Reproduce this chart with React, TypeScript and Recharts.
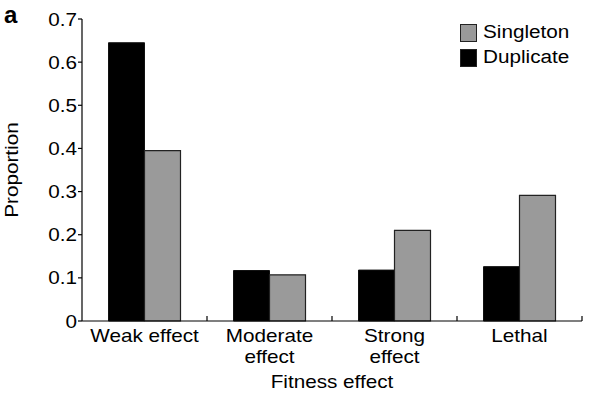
import React from 'react';
import { BarChart, Bar, XAxis, YAxis, Label } from 'recharts';

const categories = ['Weak effect', 'Moderate\neffect', 'Strong\neffect', 'Lethal'];
const duplicate = [0.645, 0.117, 0.118, 0.126];
const singleton = [0.395, 0.107, 0.21, 0.291];
const yTicks = [0, 0.1, 0.2, 0.3, 0.4, 0.5, 0.6, 0.7];

const data = categories.map((c, i) => ({ name: c, duplicate: duplicate[i], singleton: singleton[i] }));

const FONT = '"Liberation Sans", Arial, Helvetica, sans-serif';
const SX = 1.15;

const XTick = (props: any) => {
  const { x, y, payload, width, visibleTicksCount } = props;
  const lines = String(payload.value).split('\n');
  const band = Number(width) / Number(visibleTicksCount || categories.length);
  const ex = x + band / 2;
  return (
    <g>
      <line x1={ex} x2={ex} y1={y} y2={y - 5} stroke="#000" strokeWidth={1.2} />
      {lines.map((l: string, i: number) => (
        <text
          key={i}
          transform={`translate(${x},${y + 21 + i * 21}) scale(${SX},1)`}
          textAnchor="middle"
          fontFamily={FONT}
          fontSize={18}
          fill="#000"
        >
          {l}
        </text>
      ))}
    </g>
  );
};

const YTick = (props: any) => {
  const { x, y, payload } = props;
  const v = payload.value === 0 ? '0' : String(payload.value);
  return (
    <text
      transform={`translate(${x},${y + 6.5}) scale(${SX},1)`}
      textAnchor="end"
      fontFamily={FONT}
      fontSize={18}
      fill="#000"
    >
      {v}
    </text>
  );
};

const legendItems = [
  { label: 'Singleton', color: '#9a9a9a' },
  { label: 'Duplicate', color: '#000' },
];

const LegendBox = () => (
  <div style={{ position: 'absolute', left: 460, top: 20, fontFamily: FONT, fontSize: 18, zIndex: 2 }}>
    {legendItems.map((it) => (
      <div key={it.label} style={{ display: 'flex', alignItems: 'center', height: 25 }}>
        <div style={{ width: 15, height: 16, background: it.color, border: '1px solid #222' }} />
        <span style={{ marginLeft: 6, display: 'inline-block', transform: `scaleX(${SX})`, transformOrigin: 'left center', lineHeight: '25px' }}>
          {it.label}
        </span>
      </div>
    ))}
  </div>
);

export default function App() {
  return (
    <div style={{ position: 'absolute', left: 0, top: 0, width: 600, height: 398, background: '#fff' }}>
      <div
        style={{
          position: 'absolute',
          left: 4,
          top: 1,
          fontFamily: FONT,
          fontWeight: 900,
          fontSize: 24,
          lineHeight: '28px',
          zIndex: 2,
        }}
      >
        a
      </div>
      <LegendBox />
      <BarChart
        width={600}
        height={398}
        data={data}
        margin={{ top: 19, right: 18, bottom: 0, left: 22 }}
        barCategoryGap="21.2%"
        barGap={0}
      >
        <XAxis
          dataKey="name"
          height={77}
          tickLine={false}
          tickSize={0}
          tickMargin={0}
          axisLine={{ stroke: '#000', strokeWidth: 1.2 }}
          tick={<XTick />}
          interval={0}
        >
          <Label
            content={(p: any) => {
              const vb = p.viewBox;
              return (
                <text
                  transform={`translate(${vb.x + vb.width / 2},${vb.y + 67}) scale(${SX},1)`}
                  textAnchor="middle"
                  fontFamily={FONT}
                  fontSize={18}
                  fill="#000"
                >
                  Fitness effect
                </text>
              );
            }}
          />
        </XAxis>
        <YAxis
          width={60}
          domain={[0, 0.7]}
          ticks={yTicks}
          interval={0}
          tickSize={4}
          tickMargin={1}
          axisLine={{ stroke: '#000', strokeWidth: 1.2 }}
          tickLine={{ stroke: '#000', strokeWidth: 1.2 }}
          tick={<YTick />}
        >
          <Label
            content={(p: any) => {
              const vb = p.viewBox;
              return (
                <text
                  transform={`translate(18,${vb.y + vb.height / 2}) rotate(-90) scale(${SX},1)`}
                  textAnchor="middle"
                  fontFamily={FONT}
                  fontSize={18}
                  fill="#000"
                >
                  Proportion
                </text>
              );
            }}
          />
        </YAxis>
        <Bar dataKey="duplicate" fill="#000" stroke="#111" strokeWidth={1} isAnimationActive={false} />
        <Bar dataKey="singleton" fill="#9a9a9a" stroke="#222" strokeWidth={1.2} isAnimationActive={false} />
      </BarChart>
    </div>
  );
}
